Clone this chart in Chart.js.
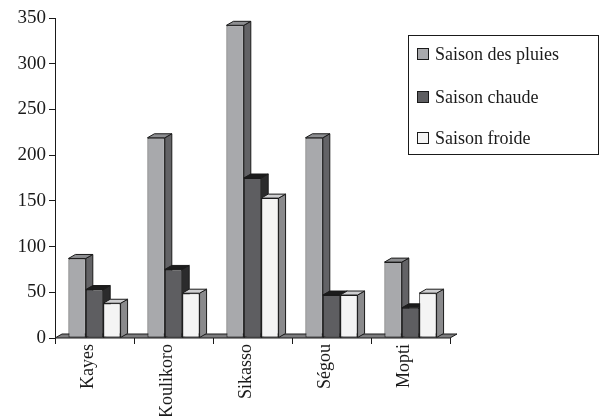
<!DOCTYPE html>
<html>
<head>
<meta charset="utf-8">
<script src="https://cdn.jsdelivr.net/npm/chart.js@4/dist/chart.umd.min.js"></script>
<style>
  html, body { margin: 0; padding: 0; background: #fff; }
  #wrap { width: 604px; height: 416px; }
</style>
</head>
<body>
<div id="wrap"><canvas id="rainChart" width="604" height="416"></canvas></div>
<script>
// Data
const categories = ['Kayes', 'Koulikoro', 'Sikasso', 'Ségou', 'Mopti'];
const seriesLabels = ['Saison des pluies', 'Saison chaude', 'Saison froide'];
const pluies = [87, 219, 342, 219, 83];
const chaude = [53, 75, 175, 47, 33];
const froide = [38, 49, 153, 47, 49];
const yMax = 350;
const yStep = 50;

// Face colours: front, side, top
const faces = [
    ['#a8a9ac', '#636366', '#8d8e91'],
    ['#5e5e61', '#2b2b2c', '#1c1c1c'],
    ['#f4f4f4', '#8a8a8c', '#cfcfd1']
];
const ink = '#1a1a1a';
const dx = 7, dy = 4;
const serif = "'Liberation Serif', 'Times New Roman', serif";

function face(ctx, pts, fill) {
    ctx.fillStyle = fill;
    ctx.beginPath();
    ctx.moveTo(pts[0][0], pts[0][1]);
    for (let i = 1; i < pts.length; i++) ctx.lineTo(pts[i][0], pts[i][1]);
    ctx.closePath();
    ctx.fill();
    ctx.stroke();
}

// 3D bars, floor and legend box
const depth3d = {
    id: 'depth3d',
    beforeDatasetDraw() {
        // bars are drawn by afterDatasetsDraw, left to right
        return false;
    },
    afterDatasetsDraw(chart) {
        const ctx = chart.ctx;
        const a = chart.chartArea;
        const base = chart.scales.y.getPixelForValue(0);
        ctx.save();
        ctx.strokeStyle = ink;
        ctx.lineWidth = 1;
        // floor
        face(ctx, [[a.left, base], [a.left + dx, base - dy], [a.right + dx, base - dy], [a.right, base]], '#7c7c7e');
        const metas = chart.data.datasets.map((d, i) => chart.getDatasetMeta(i));
        categories.forEach((c, j) => {
            metas.forEach((meta, i) => {
                const bar = meta.data[j];
                const p = bar.getProps(['x', 'y', 'base', 'width'], true);
                const l = p.x - p.width / 2, r = p.x + p.width / 2;
                face(ctx, [[r, p.y], [r + dx, p.y - dy], [r + dx, p.base - dy], [r, p.base]], faces[i][1]);
                face(ctx, [[l, p.y], [l + dx, p.y - dy], [r + dx, p.y - dy], [r, p.y]], faces[i][2]);
                bar.draw(ctx);
            });
        });
        ctx.restore();
    },
    afterDraw(chart) {
        const ctx = chart.ctx;
        ctx.save();
        ctx.strokeStyle = ink;
        ctx.lineWidth = 1;
        ctx.strokeRect(408.5, 35.5, 190, 119);
        ctx.font = '18px ' + serif;
        ctx.textBaseline = 'middle';
        const rows = [54, 97, 138];
        chart.data.datasets.forEach((ds, i) => {
            ctx.fillStyle = faces[i][0];
            ctx.fillRect(417.5, rows[i] - 5.5, 11, 11);
            ctx.strokeRect(417.5, rows[i] - 5.5, 11, 11);
            ctx.fillStyle = ink;
            ctx.fillText(ds.label, 435, rows[i] + 1);
        });
        ctx.restore();
    }
};

const ctx = document.getElementById('rainChart').getContext('2d');
new Chart(ctx, {
    type: 'bar',
    data: {
        labels: categories,
        datasets: [pluies, chaude, froide].map((d, i) => ({
            label: seriesLabels[i],
            data: d,
            backgroundColor: faces[i][0],
            borderColor: ink,
            borderWidth: 1,
            borderSkipped: false,
            categoryPercentage: 0.66,
            barPercentage: 1
        }))
    },
    options: {
        responsive: false,
        animation: false,
        layout: { padding: { top: 18, right: 154, left: 0, bottom: 0 } },
        plugins: { legend: { display: false }, tooltip: { enabled: false } },
        scales: {
            x: {
                afterFit: s => { s.height = 78; },
                grid: { offset: true, drawOnChartArea: false, color: ink, tickLength: 6 },
                border: { display: false },
                ticks: {
                    color: ink,
                    font: { family: serif, size: 18 },
                    minRotation: 90,
                    maxRotation: 90,
                    labelOffset: -6,
                    padding: 0
                }
            },
            y: {
                min: 0,
                max: yMax,
                afterFit: s => { s.width = 55; },
                grid: { drawOnChartArea: false, color: ink, tickLength: 6 },
                border: { display: true, color: ink },
                ticks: {
                    stepSize: yStep,
                    color: ink,
                    font: { family: serif, size: 19 },
                    padding: 3
                }
            }
        }
    },
    plugins: [depth3d]
});
</script>
</body>
</html>
